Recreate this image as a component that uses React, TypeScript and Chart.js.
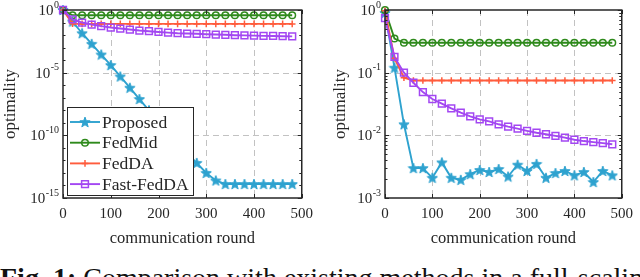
import React, { useEffect, useRef } from 'react';
import { Chart, registerables } from 'chart.js';
import { drawPoint } from 'chart.js/helpers';

Chart.register(...registerables);

// ---------- data ----------
const rounds = [0, 20, 40, 60, 80, 100, 120, 140, 160, 180, 200, 220, 240, 260, 280, 300, 320, 340, 360, 380, 400, 420, 440, 460, 480];
const seriesNames = ['Proposed', 'FedMid', 'FedDA', 'Fast-FedDA'];

const leftProposed = [1, 1.2e-1, 1.4e-2, 2.0e-3, 2.8e-4, 4.0e-5, 5.0e-6, 6.3e-7, 7.9e-8, 1.0e-8, 1.4e-9, 2.0e-10, 2.5e-11, 3.5e-12, 6.3e-13, 1.0e-13, 2.5e-14, 1.3e-14, 1.3e-14, 1.3e-14, 1.3e-14, 1.3e-14, 1.3e-14, 1.3e-14, 1.3e-14];
const leftFedMid = [1, 0.38, 0.38, 0.38, 0.38, 0.38, 0.38, 0.38, 0.38, 0.38, 0.38, 0.38, 0.38, 0.38, 0.38, 0.38, 0.38, 0.38, 0.38, 0.38, 0.38, 0.38, 0.38, 0.38, 0.38];
const leftFedDA = [1, 0.08, 0.078, 0.078, 0.078, 0.078, 0.078, 0.078, 0.078, 0.078, 0.078, 0.078, 0.078, 0.078, 0.078, 0.078, 0.078, 0.078, 0.078, 0.078, 0.078, 0.078, 0.078, 0.078, 0.078];
const leftFastFedDA = [1, 0.18, 0.1, 0.069, 0.052, 0.04, 0.033, 0.0275, 0.023, 0.0204, 0.0178, 0.0158, 0.0141, 0.0132, 0.0126, 0.0117, 0.011, 0.0105, 0.0098, 0.0095, 0.0091, 0.0087, 0.0085, 0.0081, 0.0079];

const rightProposed = [0.9, 0.12, 0.015, 0.003, 0.003, 0.0021, 0.0037, 0.0021, 0.00195, 0.0024, 0.0028, 0.0026, 0.0029, 0.0022, 0.0034, 0.0027, 0.0035, 0.0021, 0.0025, 0.0027, 0.0023, 0.0026, 0.0018, 0.0027, 0.0023];
const rightFedMid = [1, 0.35, 0.3, 0.3, 0.3, 0.3, 0.3, 0.3, 0.3, 0.3, 0.3, 0.3, 0.3, 0.3, 0.3, 0.3, 0.3, 0.3, 0.3, 0.3, 0.3, 0.3, 0.3, 0.3, 0.3];
const rightFedDA = [0.97, 0.17, 0.083, 0.075, 0.075, 0.075, 0.075, 0.075, 0.075, 0.075, 0.075, 0.075, 0.075, 0.075, 0.075, 0.075, 0.075, 0.075, 0.075, 0.075, 0.075, 0.075, 0.075, 0.075, 0.075];
const rightFastFedDA = [0.74, 0.178, 0.1, 0.069, 0.049, 0.038, 0.032, 0.027, 0.023, 0.02, 0.018, 0.0167, 0.015, 0.0138, 0.0128, 0.0118, 0.011, 0.0104, 0.0098, 0.0092, 0.0085, 0.0081, 0.0078, 0.0075, 0.0072];

const xTickValues = [0, 100, 200, 300, 400, 500];
const xGridValues = [100, 200, 300, 400];
const leftYLabelExps = [0, -5, -10, -15];
const leftYGrid = [1e-5, 1e-10];
const leftYMinor = [1e-1, 1e-2, 1e-3, 1e-4, 1e-6, 1e-7, 1e-8, 1e-9, 1e-11, 1e-12, 1e-13, 1e-14];
const rightYLabelExps = [0, -1, -2, -3];
const rightYGrid = [1e-1, 1e-2];
const rightYMinor = [
  2e-3, 3e-3, 4e-3, 5e-3, 6e-3, 7e-3, 8e-3, 9e-3,
  2e-2, 3e-2, 4e-2, 5e-2, 6e-2, 7e-2, 8e-2, 9e-2,
  2e-1, 3e-1, 4e-1, 5e-1, 6e-1, 7e-1, 8e-1, 9e-1,
];

const xTitle = 'communication round';
const yTitle = 'optimality';
const caption = 'Comparison with existing methods in a full-scaling setting.';

// ---------- style ----------
const SERIF = "'Liberation Serif', 'Times New Roman', serif";
const INK = '#262626';
const CYAN = '#2EA2CF';
const GREEN = '#2F8A1C';
const ORANGE = '#FF5C3D';
const PURPLE = '#A347F2';

function makeStar(color: string, size = 12) {
  const c = document.createElement('canvas');
  c.width = size;
  c.height = size;
  const g = c.getContext('2d')!;
  const cx = size / 2;
  const cy = size / 2 + 0.5;
  const R = size / 2 - 0.6;
  const r = R * 0.42;
  g.beginPath();
  for (let i = 0; i < 10; i++) {
    const a = -Math.PI / 2 + (i * Math.PI) / 5;
    const rad = i % 2 ? r : R;
    const px = cx + rad * Math.cos(a);
    const py = cy + rad * Math.sin(a);
    if (i === 0) g.moveTo(px, py);
    else g.lineTo(px, py);
  }
  g.closePath();
  g.fillStyle = color;
  g.fill();
  g.lineWidth = 1;
  g.strokeStyle = color;
  g.stroke();
  return c;
}

const matlabAxes = {
  id: 'matlabAxes',
  beforeDatasetsDraw(chart: any, _a: any, o: any) {
    const { ctx, chartArea: ca, scales } = chart;
    const x = scales.x;
    const y = scales.y;
    ctx.save();
    ctx.strokeStyle = '#c2c2c2';
    ctx.lineWidth = 1;
    ctx.setLineDash([6, 4]);
    for (const v of o.xGrid) {
      const px = Math.round(x.getPixelForValue(v)) + 0.5;
      ctx.beginPath();
      ctx.moveTo(px, ca.top);
      ctx.lineTo(px, ca.bottom);
      ctx.stroke();
    }
    for (const v of o.yGrid) {
      const py = Math.round(y.getPixelForValue(v)) + 0.5;
      ctx.beginPath();
      ctx.moveTo(ca.left, py);
      ctx.lineTo(ca.right, py);
      ctx.stroke();
    }
    ctx.restore();
  },
  afterDatasetsDraw(chart: any, _a: any, o: any) {
    const { ctx, chartArea: ca, scales } = chart;
    const x = scales.x;
    const y = scales.y;
    ctx.save();
    ctx.strokeStyle = INK;
    ctx.lineWidth = 1;
    ctx.setLineDash([]);
    const seg = (x1: number, y1: number, x2: number, y2: number) => {
      ctx.beginPath();
      ctx.moveTo(x1, y1);
      ctx.lineTo(x2, y2);
      ctx.stroke();
    };
    for (const v of o.xTicks) {
      const px = Math.round(x.getPixelForValue(v)) + 0.5;
      seg(px, ca.bottom, px, ca.bottom - 4);
      seg(px, ca.top, px, ca.top + 4);
    }
    for (const e of o.yExps) {
      const py = Math.round(y.getPixelForValue(Math.pow(10, e))) + 0.5;
      seg(ca.left, py, ca.left + 4, py);
      seg(ca.right, py, ca.right - 4, py);
    }
    for (const v of o.yMinor) {
      const py = Math.round(y.getPixelForValue(v)) + 0.5;
      seg(ca.left, py, ca.left + 2.5, py);
      seg(ca.right, py, ca.right - 2.5, py);
    }
    ctx.lineWidth = 1.5;
    ctx.strokeRect(ca.left, ca.top, ca.right - ca.left, ca.bottom - ca.top);
    ctx.restore();
  },
  afterDraw(chart: any, _a: any, o: any) {
    const { ctx, chartArea: ca, scales } = chart;
    const y = scales.y;
    ctx.save();
    ctx.fillStyle = INK;
    ctx.textBaseline = 'middle';
    ctx.textAlign = 'right';
    for (const e of o.yExps) {
      const py = y.getPixelForValue(Math.pow(10, e));
      const sup = String(e);
      ctx.font = `10px ${SERIF}`;
      const w = ctx.measureText(sup).width;
      const xr = ca.left - 4;
      ctx.fillText(sup, xr, py - 5);
      ctx.font = `15px ${SERIF}`;
      ctx.fillText('10', xr - w - 0.5, py + 1);
    }
    if (o.legend) {
      const lx = ca.left + 4;
      const lw = 126;
      const lh = 88;
      const ly = ca.bottom - 3 - lh;
      ctx.fillStyle = '#ffffff';
      ctx.fillRect(lx, ly, lw, lh);
      ctx.strokeStyle = INK;
      ctx.lineWidth = 1;
      ctx.strokeRect(lx + 0.5, ly + 0.5, lw, lh);
      chart.data.datasets.forEach((ds: any, i: number) => {
        const ry = ly + 15 + i * 20.7;
        ctx.strokeStyle = ds.borderColor;
        ctx.lineWidth = ds.borderWidth;
        ctx.beginPath();
        ctx.moveTo(lx + 3, ry);
        ctx.lineTo(lx + 33, ry);
        ctx.stroke();
        ctx.fillStyle = ds.pointBackgroundColor;
        ctx.strokeStyle = ds.borderColor;
        ctx.lineWidth = ds.pointBorderWidth;
        drawPoint(ctx, { pointStyle: ds.pointStyle, rotation: 0, radius: ds.pointRadius, borderWidth: ds.pointBorderWidth }, lx + 18, ry);
        ctx.fillStyle = INK;
        ctx.font = `17.5px ${SERIF}`;
        ctx.textAlign = 'left';
        ctx.textBaseline = 'middle';
        ctx.fillText(ds.label, lx + 35, ry + 1);
      });
    }
    ctx.restore();
  },
};

type PanelProps = {
  values: number[][];
  yMin: number;
  yMax: number;
  yExps: number[];
  yGrid: number[];
  yMinor: number[];
  legend: boolean;
  left: number;
  padLeft: number;
  yWidth: number;
  padRight: number;
};

function Panel(p: PanelProps) {
  const ref = useRef<HTMLCanvasElement | null>(null);
  useEffect(() => {
    if (!ref.current) return;
    const star = makeStar(CYAN);
    const styles = [
      { color: CYAN, pointStyle: star as any, radius: 5, bg: CYAN, order: 4 },
      { color: GREEN, pointStyle: 'circle', radius: 3.3, bg: 'rgba(0,0,0,0)', order: 3 },
      { color: ORANGE, pointStyle: 'cross', radius: 3.3, bg: 'rgba(0,0,0,0)', order: 2 },
      { color: PURPLE, pointStyle: 'rect', radius: 4.8, bg: 'rgba(0,0,0,0)', order: 1 },
    ];
    const chart = new Chart(ref.current, {
      type: 'line',
      data: {
        datasets: p.values.map((vals, i) => ({
          label: seriesNames[i],
          data: rounds.map((r, j) => ({ x: r, y: vals[j] })),
          borderColor: styles[i].color,
          backgroundColor: styles[i].color,
          borderWidth: 1.9,
          pointStyle: styles[i].pointStyle,
          pointRadius: styles[i].radius,
          pointBorderWidth: 1.5,
          pointBorderColor: styles[i].color,
          pointBackgroundColor: styles[i].bg,
          tension: 0,
          fill: false,
          clip: false as any,
          order: styles[i].order,
        })),
      },
      options: {
        responsive: false,
        animation: false,
        devicePixelRatio: 1,
        layout: { padding: { left: p.padLeft, right: p.padRight, top: 10, bottom: 13 } },
        plugins: {
          legend: { display: false },
          tooltip: { enabled: false },
          matlabAxes: {
            xGrid: xGridValues,
            xTicks: xTickValues,
            yGrid: p.yGrid,
            yExps: p.yExps,
            yMinor: p.yMinor,
            legend: p.legend,
          },
        } as any,
        scales: {
          x: {
            type: 'linear',
            min: 0,
            max: 500,
            ticks: {
              stepSize: 100,
              autoSkip: false,
              maxRotation: 0,
              padding: 7,
              color: INK,
              font: { family: SERIF, size: 15 },
            },
            grid: { display: false, drawTicks: false },
            border: { display: false },
            title: {
              display: true,
              text: xTitle,
              color: INK,
              font: { family: SERIF, size: 16.5 },
              padding: 0,
            },
            afterFit: (s: any) => {
              s.height = 51;
            },
          },
          y: {
            type: 'logarithmic',
            min: p.yMin,
            max: p.yMax,
            ticks: { display: false },
            grid: { display: false, drawTicks: false },
            border: { display: false },
            title: {
              display: true,
              text: yTitle,
              color: INK,
              font: { family: SERIF, size: 17 },
              padding: 0,
            },
            afterFit: (s: any) => {
              s.width = p.yWidth;
            },
          },
        },
      } as any,
      plugins: [matlabAxes as any],
    });
    return () => chart.destroy();
  }, []);
  return (
    <canvas
      ref={ref}
      width={320}
      height={262}
      style={{ position: 'absolute', left: p.left, top: 0, width: 320, height: 262 }}
    />
  );
}

export default function App() {
  return (
    <div
      style={{
        position: 'fixed',
        left: 0,
        top: 0,
        width: 640,
        height: 277,
        overflow: 'hidden',
        background: '#ffffff',
      }}
    >
      <Panel
        values={[leftProposed, leftFedMid, leftFedDA, leftFastFedDA]}
        yMin={1e-15}
        yMax={1}
        yExps={leftYLabelExps}
        yGrid={leftYGrid}
        yMinor={leftYMinor}
        legend={true}
        left={0}
        padLeft={0}
        yWidth={63}
        padRight={17}
      />
      <Panel
        values={[rightProposed, rightFedMid, rightFedDA, rightFastFedDA]}
        yMin={1e-3}
        yMax={1}
        yExps={rightYLabelExps}
        yGrid={rightYGrid}
        yMinor={rightYMinor}
        legend={false}
        left={320}
        padLeft={10}
        yWidth={55}
        padRight={16}
      />
      <div
        style={{
          position: 'absolute',
          left: 0,
          top: 262,
          width: 640,
          whiteSpace: 'nowrap',
          overflow: 'hidden',
          fontFamily: SERIF,
          fontSize: 28,
          lineHeight: 'normal',
          color: '#111',
        }}
      >
        <b>Fig. 1:</b> {caption}
      </div>
    </div>
  );
}
